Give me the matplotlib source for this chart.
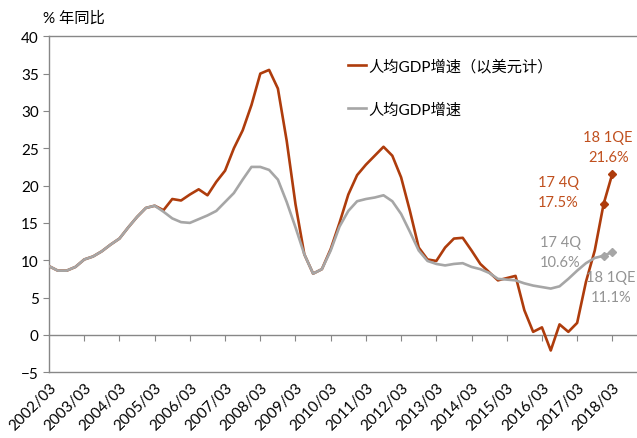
import matplotlib
matplotlib.use("Agg")
import matplotlib.pyplot as plt

# 季度数据 2002Q1 - 2018Q1
gdp_pc_usd = [9.2, 8.6, 8.6, 9.1, 10.1, 10.5, 11.2, 12.1, 12.9, 14.4, 15.8, 17.0, 17.3,
              16.7, 18.2, 18.0, 18.8, 19.5, 18.7, 20.5, 22.0, 25.0, 27.4, 30.8, 35.0,
              35.5, 33.0, 26.0, 17.5, 10.8, 8.2, 8.8, 11.5, 15.0, 18.8, 21.4, 22.8,
              24.0, 25.2, 24.0, 21.1, 16.6, 11.7, 10.1, 9.9, 11.7, 12.9, 13.0, 11.3,
              9.5, 8.4, 7.3, 7.6, 7.9, 3.3, 0.4, 1.0, -2.1, 1.4, 0.4, 1.6, 7.1, 11.3,
              17.5, 21.6]
gdp_pc = [9.2, 8.6, 8.6, 9.1, 10.1, 10.5, 11.2, 12.1, 12.9, 14.4, 15.8, 17.0, 17.3,
          16.5, 15.6, 15.1, 15.0, 15.5, 16.0, 16.6, 17.8, 19.0, 20.8, 22.5, 22.5,
          22.1, 20.8, 17.8, 14.4, 10.8, 8.2, 8.8, 11.3, 14.5, 16.6, 17.9, 18.2,
          18.4, 18.7, 17.9, 16.2, 13.8, 11.3, 9.9, 9.5, 9.3, 9.5, 9.6, 9.1,
          8.8, 8.3, 7.5, 7.4, 7.3, 6.9, 6.6, 6.4, 6.2, 6.5, 7.5, 8.6, 9.6, 10.3,
          10.6, 11.1]
year_labels = ["2002/03", "2003/03", "2004/03", "2005/03", "2006/03", "2007/03",
               "2008/03", "2009/03", "2010/03", "2011/03", "2012/03", "2013/03",
               "2014/03", "2015/03", "2016/03", "2017/03", "2018/03"]

RED = "#AE3C0C"
RED_TXT = "#C0501E"
GRAY = "#A6A6A6"
GRAY_TXT = "#939393"
AXC = "#878787"

plt.rcParams['font.family'] = ['Lato', 'Noto Sans CJK SC']
plt.rcParams['font.size'] = 11

fig = plt.figure(figsize=(6.37, 4.39), dpi=100)
ax = fig.add_axes([0.077, 0.150, 0.923, 0.765])

x = list(range(len(gdp_pc)))
n = len(x)
ax.plot(x, gdp_pc_usd, color=RED, lw=1.9, label="人均GDP增速（以美元计）", zorder=3)
ax.plot(x, gdp_pc, color=GRAY, lw=1.9, label="人均GDP增速", zorder=4)
# 最近两个季度的标记点
ax.plot(x[-2:], gdp_pc_usd[-2:], 'D', color=RED, ms=4.5, zorder=5)
ax.plot(x[-2:], gdp_pc[-2:], 'D', color=GRAY, ms=4.5, zorder=5)

ax.set_xlim(0, 66.8)
ax.set_ylim(-5, 40)
ax.set_yticks(range(-5, 41, 5))

tick_pos = list(range(0, n, 4))
ax.set_xticks(tick_pos)
ax.set_xticklabels(year_labels, rotation=45, ha='right', rotation_mode='anchor')
ax.tick_params(axis='x', length=0, pad=6, colors='black')
ax.tick_params(axis='y', length=4, color=AXC, direction='out')

for s in ['left', 'top', 'bottom']:
    ax.spines[s].set_color(AXC)
    ax.spines[s].set_linewidth(1.0)
ax.spines['right'].set_visible(False)

# 0 刻度线
sec = ax.secondary_xaxis(5 / 45)
sec.set_xticks(tick_pos[1:])
sec.set_xticklabels([])
sec.tick_params(axis='x', length=4, color=AXC, direction='out')
sec.spines['bottom'].set_color(AXC)
sec.spines['bottom'].set_linewidth(1.0)

fig.text(0.068, 0.958, "% 年同比", fontsize=11, ha='left', va='center')

ax.legend(loc='upper left', bbox_to_anchor=(0.485, 0.975), frameon=False,
          handlelength=1.2, handletextpad=0.15, labelspacing=1.9, fontsize=11)

ann_fs = 10.5
ax.annotate("18 1QE\n21.6%", xy=(n - 1, gdp_pc_usd[-1]), xytext=(-3, 19),
            textcoords='offset points', color=RED_TXT, ha='center', va='center',
            linespacing=1.55, fontsize=ann_fs)
ax.annotate("17 4Q\n17.5%", xy=(n - 2, gdp_pc_usd[-2]), xytext=(-32.5, 9),
            textcoords='offset points', color=RED_TXT, ha='center', va='center',
            linespacing=1.55, fontsize=ann_fs)
ax.annotate("17 4Q\n10.6%", xy=(n - 2, gdp_pc[-2]), xytext=(-31, 3),
            textcoords='offset points', color=GRAY_TXT, ha='center', va='center',
            linespacing=1.55, fontsize=ann_fs)
ax.annotate("18 1QE\n11.1%", xy=(n - 1, gdp_pc[-1]), xytext=(-1, -25.5),
            textcoords='offset points', color=GRAY_TXT, ha='center', va='center',
            linespacing=1.55, fontsize=ann_fs)

fig.savefig("out.png", dpi=100)
